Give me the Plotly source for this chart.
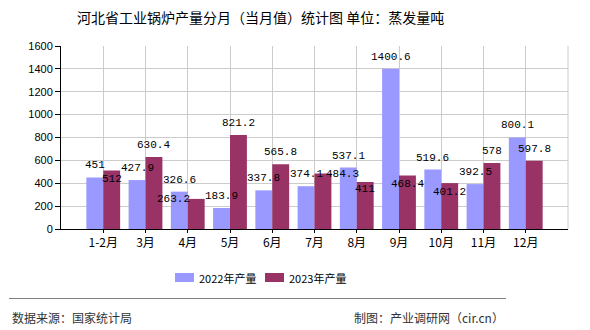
import plotly.graph_objects as go

categories = ["1-2月", "3月", "4月", "5月", "6月", "7月", "8月", "9月", "10月", "11月", "12月"]
v2022 = [451, 427.9, 326.6, 183.9, 337.8, 374.1, 537.1, 1400.6, 519.6, 392.5, 800.1]
v2023 = [512, 630.4, 263.2, 821.2, 565.8, 484.3, 411, 468.4, 401.2, 578, 597.8]
series_names = ["2022年产量", "2023年产量"]
colors = ["#9999FF", "#993366"]

# label offsets (px) for labels moved to avoid collisions: (series, index) -> (xshift, yshift)
label_offsets = {
    (1, 0): (0, -9),
    (1, 2): (-23, 0),
    (1, 5): (20, 0),
    (1, 6): (0, -7),
    (1, 7): (0, -9),
    (1, 8): (0, -9),
}

cjk = "Noto Sans CJK SC"
W, H = 590, 330
L, R, T, B = 61, 22, 46, 101
pw, ph = W - L - R, H - T - B


def px_x(px):
    return (px - L) / pw


def px_y(py):
    return (H - B - py) / ph


fig = go.Figure()
for s, vals in enumerate([v2022, v2023]):
    fig.add_trace(go.Bar(
        x=list(range(len(categories))), y=vals, name=series_names[s],
        marker=dict(color=colors[s], line=dict(width=0)),
    ))

ann = []
for s, vals in enumerate([v2022, v2023]):
    for i, v in enumerate(vals):
        xs, ys = label_offsets.get((s, i), (0, 12))
        ann.append(dict(
            x=i + (-0.2 if s == 0 else 0.2), y=v, xref="x", yref="y",
            text=f"{v:g}", showarrow=False, xshift=xs, yshift=ys,
            yanchor="middle", xanchor="center",
            font=dict(family="Liberation Mono", size=11, color="#000"),
        ))

ann.append(dict(
    x=px_x(260), y=px_y(17), xref="paper", yref="paper",
    text="河北省工业锅炉产量分月（当月值）统计图 单位：蒸发量吨", showarrow=False,
    xanchor="center", yanchor="middle",
    font=dict(family=cjk, size=14, color="#000"),
))
ann.append(dict(
    x=px_x(10), y=px_y(317), xref="paper", yref="paper",
    text="数据来源：国家统计局", showarrow=False, xanchor="left", yanchor="middle",
    font=dict(family=cjk, size=12, color="#333"),
))
ann.append(dict(
    x=px_x(506), y=px_y(317), xref="paper", yref="paper",
    text="制图：产业调研网（cir.cn）", showarrow=False, xanchor="right", yanchor="middle",
    font=dict(family=cjk, size=12, color="#333"),
))

# manual legend (swatch + text)
legend_x = [175, 265]
shapes = []
for s, name in enumerate(series_names):
    x0 = legend_x[s]
    shapes.append(dict(type="rect", xref="paper", yref="paper",
                       x0=px_x(x0), x1=px_x(x0 + 19), y0=px_y(282), y1=px_y(273),
                       fillcolor=colors[s], line=dict(width=0)))
    ann.append(dict(x=px_x(x0 + 22), y=px_y(277.5), xref="paper", yref="paper",
                    text=name, showarrow=False, xanchor="left", yanchor="middle",
                    font=dict(family=cjk, size=11, color="#000")))

shapes += [
    dict(type="line", xref="paper", yref="paper", x0=1, x1=1, y0=0, y1=1,
         line=dict(color="#cccccc", width=1)),
    dict(type="line", xref="paper", yref="paper",
         x0=px_x(9), x1=px_x(506), y0=px_y(298.5), y1=px_y(298.5),
         line=dict(color="#808080", width=1)),
]

fig.update_layout(
    width=W, height=H,
    margin=dict(l=L, r=R, t=T, b=B),
    paper_bgcolor="white", plot_bgcolor="white",
    barmode="group", bargap=0.2, bargroupgap=0,
    annotations=ann, shapes=shapes,
    showlegend=False,
    xaxis=dict(
        range=[-1, len(categories)], tickmode="array",
        tickvals=list(range(len(categories))), ticktext=categories,
        showgrid=True, gridcolor="#cccccc", gridwidth=1,
        showline=True, linecolor="#000", linewidth=1,
        ticks="outside", ticklen=3, tickcolor="#000",
        tickfont=dict(family=cjk, size=12, color="#000"), zeroline=False,
    ),
    yaxis=dict(
        range=[0, 1600], dtick=200, tick0=0,
        showgrid=True, gridcolor="#cccccc", gridwidth=1,
        showline=True, linecolor="#000", linewidth=1,
        ticks="outside", ticklen=5, tickcolor="#000",
        tickfont=dict(family="Liberation Sans", size=11, color="#000"), zeroline=False,
    ),
)
fig.write_html("out.html")
